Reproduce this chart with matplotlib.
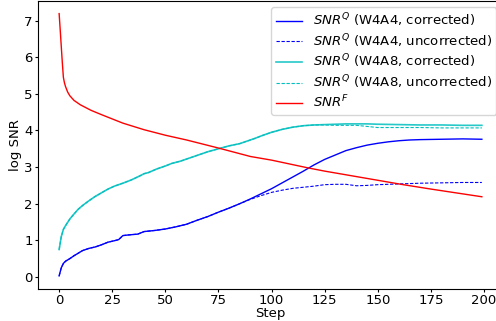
import matplotlib
matplotlib.use('Agg')
import matplotlib.pyplot as plt

# step positions / values
steps_q = [0, 1, 2, 3, 5, 7, 9, 11, 14, 17, 20, 23, 26, 28, 30, 33, 37, 40, 45, 50,
           55, 60, 65, 70, 75, 80, 85, 90, 95, 100, 105, 110, 115, 120, 125, 130,
           135, 140, 145, 150, 155, 160, 165, 170, 180, 190, 199]
w4a4_corr = [0.03, 0.25, 0.37, 0.43, 0.50, 0.58, 0.65, 0.72, 0.78, 0.82, 0.88, 0.95,
             0.99, 1.02, 1.13, 1.15, 1.17, 1.24, 1.27, 1.31, 1.37, 1.44, 1.55, 1.65,
             1.77, 1.88, 2.00, 2.13, 2.27, 2.41, 2.57, 2.73, 2.89, 3.06, 3.21, 3.33,
             3.45, 3.53, 3.60, 3.65, 3.69, 3.72, 3.74, 3.75, 3.76, 3.77, 3.76]
w4a4_uncorr = w4a4_corr[:27] + [2.12, 2.22, 2.31, 2.37, 2.42, 2.45, 2.48, 2.52, 2.53,
                                2.53, 2.49, 2.50, 2.52, 2.53, 2.54, 2.55, 2.56, 2.57,
                                2.58, 2.58]

steps_c = [0, 1, 2, 3, 5, 7, 9, 11, 14, 17, 20, 23, 26, 30, 34, 38, 40, 42, 46, 50,
           53, 57, 61, 65, 70, 75, 80, 85, 88, 92, 96, 100, 105, 110, 115, 120, 125,
           130, 135, 140, 145, 150, 160, 170, 180, 190, 199]
w4a8_corr = [0.75, 1.10, 1.30, 1.40, 1.58, 1.72, 1.85, 1.95, 2.08, 2.20, 2.30, 2.40,
             2.48, 2.56, 2.65, 2.76, 2.82, 2.85, 2.95, 3.03, 3.10, 3.16, 3.24, 3.32,
             3.42, 3.50, 3.58, 3.64, 3.70, 3.78, 3.87, 3.95, 4.03, 4.09, 4.13, 4.15,
             4.16, 4.17, 4.18, 4.18, 4.18, 4.17, 4.16, 4.15, 4.15, 4.14, 4.14]
w4a8_uncorr = w4a8_corr[:36] + [4.15, 4.14, 4.14, 4.14, 4.11, 4.08, 4.08, 4.08, 4.07,
                                4.07, 4.07]

steps_f = [0, 0.5, 1, 1.5, 2, 2.5, 3, 4, 5, 7, 10, 15, 20, 30, 40, 50, 60, 75, 90,
           100, 117, 125, 150, 162, 175, 199]
snr_f = [7.19, 6.75, 6.3, 5.85, 5.45, 5.3, 5.2, 5.05, 4.95, 4.82, 4.70, 4.55, 4.43,
         4.20, 4.02, 3.87, 3.74, 3.52, 3.29, 3.19, 2.98, 2.89, 2.64, 2.52, 2.40, 2.19]

fig = plt.figure(figsize=(4.96, 3.21), dpi=100)
ax = fig.add_axes([38 / 496, 32 / 321, 465 / 496, 288.5 / 321])

ax.plot(steps_q, w4a4_corr, color='b', lw=1.0, label=r'$SNR^Q$ (W4A4, corrected)')
ax.plot(steps_q, w4a4_uncorr, color='b', lw=0.8, dashes=(3, 1.5),
        label=r'$SNR^Q$ (W4A4, uncorrected)')
ax.plot(steps_c, w4a8_corr, color='c', lw=1.2, alpha=0.85,
        label=r'$SNR^Q$ (W4A8, corrected)')
ax.plot(steps_c, w4a8_uncorr, color='c', lw=0.8, dashes=(3, 1.5),
        label=r'$SNR^Q$ (W4A8, uncorrected)')
ax.plot(steps_f, snr_f, color='r', lw=1.0, label=r'$SNR^F$')

ax.set_xticks([0, 25, 50, 75, 100, 125, 150, 175, 200])
ax.set_yticks(range(8))
ax.tick_params(labelsize=9.5, length=2.2, pad=1.5)
ax.set_xlabel('Step', fontsize=9.5, labelpad=0)
ax.set_ylabel('log SNR', fontsize=9.5, labelpad=2)
ax.legend(loc='upper right', fontsize=9.5, labelspacing=0.22, borderpad=0.35)

fig.savefig('out.png', dpi=100)
